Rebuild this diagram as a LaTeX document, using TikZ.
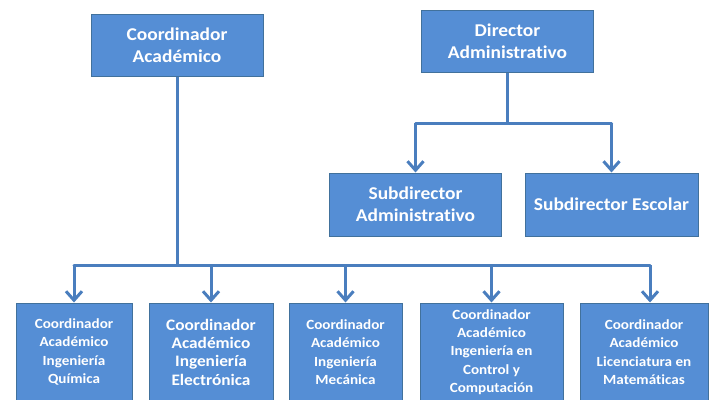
\documentclass[tikz,border=0pt]{standalone}
\usepackage{fontspec}
\setmainfont{Carlito}[FakeStretch=1.08, Ligatures=NoCommon]
\usetikzlibrary{arrows.meta}
\definecolor{boxfill}{HTML}{558ED5}
\definecolor{boxline}{HTML}{41719C}
\definecolor{conn}{HTML}{4A7EBE}
\tikzset{
  orgbox/.style={draw=boxline, line width=1pt, fill=boxfill, text=white, font=\bfseries, align=center, inner sep=0pt},
  topbox/.style={orgbox, minimum width=172pt, minimum height=62pt, font=\bfseries\fontsize{18}{22}\selectfont},
  subbox/.style={orgbox, minimum width=172pt, minimum height=63pt, font=\bfseries\fontsize{18}{22}\selectfont},
  lowbox/.style={orgbox, minimum height=98pt, font=\bfseries\fontsize{14}{18.3}\selectfont},
  conline/.style={draw=conn, line width=3pt},
  conarrow/.style={conline, -{Straight Barb[length=9pt, width=16pt, line width=3pt]}}
}
\begin{document}
\begin{tikzpicture}[x=1pt, y=-1pt]
\useasboundingbox (0,0) rectangle (712,399);
\clip (0,0) rectangle (712,399);
% top boxes
\node[topbox] (ca) at (177,45) {Coordinador\\Académico};
\node[topbox] (da) at (507.5,41) {Director\\Administrativo};
% sub boxes
\node[subbox, minimum width=172pt] (sa) at (415.5,204.5) {Subdirector\\Administrativo};
\node[subbox, minimum width=173pt] (se) at (611.5,204.5) {Subdirector Escolar};
% bottom boxes
\node[lowbox, minimum width=116pt] (b1) at (74,352) {Coordinador\\Académico\\Ingeniería\\Química};
\node[lowbox, minimum width=124pt, font=\bfseries\fontsize{16}{18.3}\selectfont] (b2) at (211,352) {Coordinador\\Académico\\Ingeniería\\Electrónica};
\node[lowbox, minimum width=113pt] (b3) at (345.5,352) {Coordinador\\Académico\\Ingeniería\\Mecánica};
\node[lowbox, minimum width=143pt] (b4) at (491.5,352) {Coordinador\\Académico\\Ingeniería en\\Control y\\Computación};
\node[lowbox, minimum width=128pt] (b5) at (644,352) {Coordinador\\Académico\\Licenciatura en\\Matemáticas};
% connectors: director
\coordinate (dj) at (da.south |- 0,123);
\coordinate (dl) at (sa.north |- 0,123);
\coordinate (dr) at (se.north |- 0,123);
\draw[conline] (da.south) -- (dj);
\draw[conline, line cap=round] (dl) -- (dr);
\draw[conarrow] (dl) -- (sa.north);
\draw[conarrow] (dr) -- (se.north);
% connectors: coordinador
\coordinate (cj) at (ca.south |- 0,265);
\coordinate (c1) at (b1.north |- 0,265);
\coordinate (c2) at (b2.north |- 0,265);
\coordinate (c3) at (b3.north |- 0,265);
\coordinate (c4) at (b4.north |- 0,265);
\coordinate (c5) at (650,265);
\draw[conline] (ca.south) -- (cj);
\draw[conline, line cap=round] (c1) -- (c5);
\draw[conarrow] (c1) -- (b1.north);
\draw[conarrow] (c2) -- (b2.north);
\draw[conarrow] (c3) -- (b3.north);
\draw[conarrow] (c4) -- (b4.north);
\draw[conarrow] (c5) -- (c5 |- b5.north);
\end{tikzpicture}
\end{document}
